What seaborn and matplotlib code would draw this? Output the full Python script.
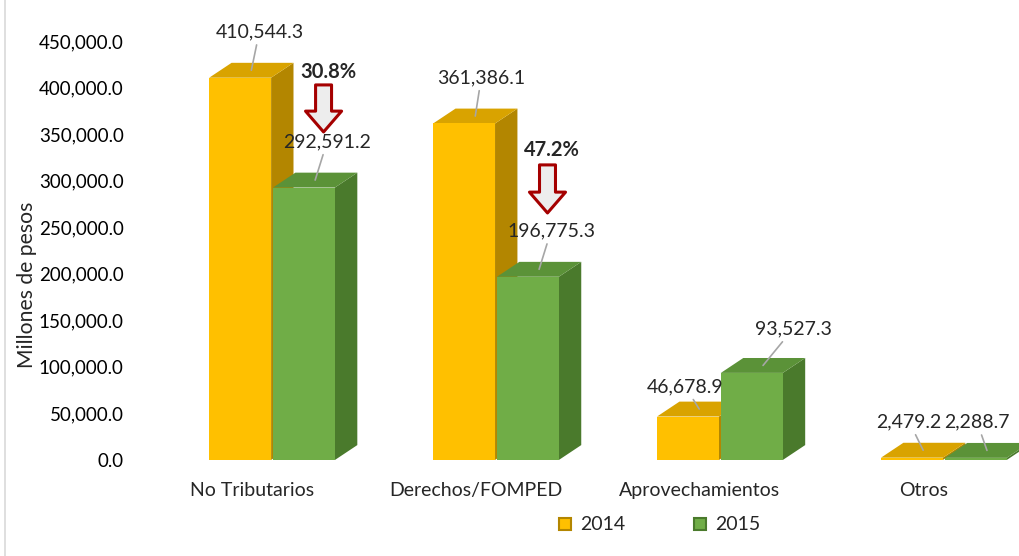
import numpy as np
import pandas as pd
import seaborn as sns
import matplotlib.pyplot as plt
from matplotlib.patches import Polygon
from matplotlib.lines import Line2D

sns.set_style('white')
plt.rcParams['font.family'] = ['Lato', 'DejaVu Sans']

# DATA
categories = ['No Tributarios', 'Derechos/FOMPED', 'Aprovechamientos', 'Otros']
years = ['2014', '2015']
vals_2014 = [410544.3, 361386.1, 46678.9, 2479.2]
vals_2015 = [292591.2, 196775.3, 93527.3, 2288.7]
drops = ['30.8%', '47.2%']
# where the decrease arrows sit (top, tip, label) in y units
arrow_top = [402800, 316900]
arrow_tip = [352300, 265300]
drop_label_y = [416700, 333000]

df = pd.DataFrame({
    'categoria': categories * 2,
    'anio': [years[0]] * 4 + [years[1]] * 4,
    'valor': vals_2014 + vals_2015,
})

front = {'2014': '#FFC000', '2015': '#70AD47'}
side = {'2014': '#B38600', '2015': '#4A7A2C'}
top = {'2014': '#D9A300', '2015': '#5B9238'}
# nudge (pixels) of each value label, like excel placed them
lab_dx = {'2014': [8, 6, -14, -14], '2015': [12, 12, 30, -10]}
lab_dy = {'2014': [30, 30, 14, 20], '2015': [30, 30, 28, 20]}

fig = plt.figure(figsize=(10.2, 5.56), dpi=100)
ax = fig.add_axes([0.135, 0.1727, 0.865, 0.7536])

sns.barplot(data=df, x='categoria', y='valor', hue='anio', palette=front,
            width=0.57, gap=0.03, saturation=1, ax=ax, legend=False, edgecolor='none')

ax.set_ylim(0, 450000)
ax.set_xlim(-0.60, 3.34)
ax.set_yticks(np.arange(0, 450001, 50000))
ax.set_yticklabels(['{:,.1f}'.format(v) for v in np.arange(0, 450001, 50000)])
ax.set_xticks(np.arange(4) - 0.09)
ax.set_xticklabels(categories)
ax.tick_params(axis='y', labelsize=13.5, pad=10, length=0, colors='#000000')
ax.tick_params(axis='x', labelsize=14, pad=16, length=0)
ax.set_xlabel('')
ax.set_ylabel('Millones de pesos', fontsize=15.2)
ax.yaxis.set_label_coords(-0.114, 0.418)
sns.despine(ax=ax, left=True, bottom=True)

# fake 3D depth on each bar
dx, dy = 0.1, 16000
for i, p in enumerate(ax.patches[:8]):
    yr = years[i // 4]
    x0, w, h = p.get_x(), p.get_width(), p.get_height()
    ax.add_patch(Polygon([(x0 + w, 0), (x0 + w + dx, dy), (x0 + w + dx, h + dy), (x0 + w, h)],
                         closed=True, fc=side[yr], ec='none', zorder=1))
    ax.add_patch(Polygon([(x0, h), (x0 + dx, h + dy), (x0 + w + dx, h + dy), (x0 + w, h)],
                         closed=True, fc=top[yr], ec='none', zorder=2))
    p.set_zorder(3)
    vals = vals_2014 if yr == '2014' else vals_2015
    ax.annotate('{:,.1f}'.format(vals[i % 4]),
                xy=(x0 + w / 2 + dx / 2, h + dy / 2),
                xytext=(lab_dx[yr][i % 4], lab_dy[yr][i % 4]), textcoords='offset pixels',
                ha='center', va='bottom', fontsize=14,
                arrowprops=dict(arrowstyle='-', color='#A6A6A6', lw=1.2,
                                shrinkA=1, shrinkB=0))

# decrease arrows
for k in range(2):
    xc = k + 0.23
    ax.annotate('', xy=(xc, arrow_tip[k]), xytext=(xc, arrow_top[k]),
                arrowprops=dict(arrowstyle='simple,head_width=2.6,head_length=1.5,tail_width=1.15',
                                mutation_scale=10, fc='#EDEDED', ec='#A50000', lw=2.2,
                                shrinkA=0, shrinkB=0), zorder=5)
    ax.text(xc + 0.02, drop_label_y[k], drops[k],
            ha='center', va='center', fontsize=14.5, fontweight='bold')

# legend
handles = [Line2D([], [], marker='s', ls='none', markersize=9, markerfacecolor=front[y],
                  markeredgecolor=side[y], markeredgewidth=1.5) for y in years]
fig.legend(handles, years, loc='center', bbox_to_anchor=(0.645, 0.056), ncol=2,
           frameon=False, fontsize=14, handlelength=1.0, handletextpad=0.3,
           columnspacing=3.3)

fig.add_artist(Line2D([0.005, 0.005], [0, 1], color='#D9D9D9', lw=1.2))

fig.savefig('out.png', dpi=100)
